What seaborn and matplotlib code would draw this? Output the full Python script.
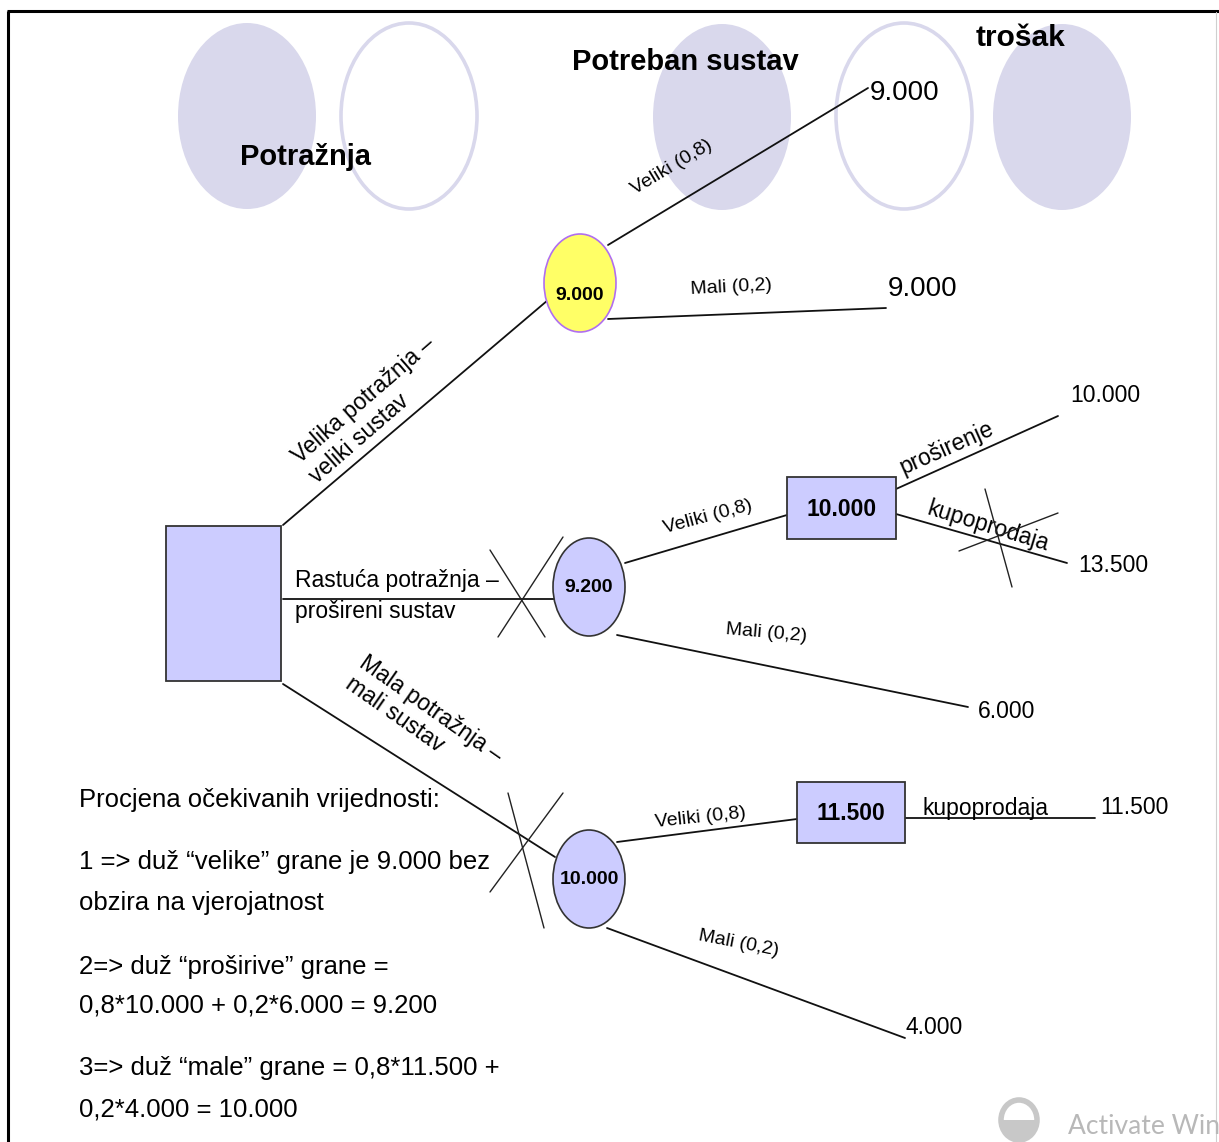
import numpy as np
import pandas as pd
import matplotlib
matplotlib.use("Agg")
import matplotlib.pyplot as plt
import seaborn as sns
from matplotlib.patches import Ellipse, Rectangle, Wedge

# ---------------- data ----------------
header_labels = ["Potražnja", "Potreban sustav", "trošak"]
decision_labels = ["Velika potražnja –\nveliki sustav",
                   "Rastuća potražnja –\nprošireni sustav",
                   "Mala potražnja –\nmali sustav"]
chance_values = ["9.000", "9.200", "10.000"]
sub_decision_values = ["10.000", "11.500"]
prob_labels = ["Veliki (0,8)", "Mali (0,2)", "Veliki (0,8)", "Mali (0,2)", "Veliki (0,8)", "Mali (0,2)"]
action_labels = ["proširenje", "kupoprodaja", "kupoprodaja"]
outcome_values = ["9.000", "9.000", "10.000", "13.500", "6.000", "11.500", "4.000"]
summary_lines = ["Procjena očekivanih vrijednosti:",
                 "1 => duž “velike” grane je 9.000 bez",
                 "obzira na vjerojatnost",
                 "2=> duž “proširive” grane =",
                 "0,8*10.000 + 0,2*6.000 = 9.200",
                 "3=> duž “male” grane = 0,8*11.500 +",
                 "0,2*4.000 = 10.000"]

# ---------------- layout (pixel space) ----------------
branch_segments = [((283, 525), (548, 300)), ((608, 245), (868, 88)), ((608, 319), (886, 308)),
                   ((283, 599), (556, 599)), ((625, 563), (787, 515)), ((896, 489), (1058, 416)),
                   ((896, 514), (1067, 563)), ((617, 635), (968, 707)), ((283, 684), (555, 857)),
                   ((617, 842), (797, 819)), ((905, 818), (1095, 818)), ((607, 928), (905, 1038))]
cross_segments = [((490, 550), (545, 637)), ((563, 537), (498, 637)),
                  ((985, 489), (1012, 587)), ((959, 551), (1058, 513)),
                  ((508, 793), (544, 928)), ((563, 793), (490, 892))]
header_ellipses = [((247, 116), False), ((409, 116), True), ((722, 117), False),
                   ((904, 116), True), ((1062, 117), False)]
chance_pos = [(580, 283), (589, 587), (589, 879)]
chance_text_pos = [(580, 295), (589, 588), (589, 880)]
sub_rects = [(787, 477, 109, 62), (797, 782, 108, 61)]
outcome_pos = [(870, 93), (888, 289), (1070, 396), (1078, 565), (978, 712), (1100, 808), (906, 1028)]
outcome_size = [20, 20, 16.5, 16.5, 16.5, 16.5, 16.5]
prob_pos = [(672, 167, 31), (731, 287, 3), (708, 517, 15), (766, 633, -5), (700, 818, 6), (739, 943, -11)]
action_pos = [(947, 448, 24), (988, 526, -17), (986, 808, 0)]
summary_y = [800, 862, 903, 967, 1006, 1068, 1110]

W, H = 1219, 1142
sns.set_theme(style="white")
FONT = ["Liberation Sans", "DejaVu Sans"]
plt.rcParams["font.family"] = FONT
plt.rcParams["text.color"] = "black"

fig = plt.figure(figsize=(W / 100, H / 100), dpi=100)
ax = fig.add_axes([0, 0, 1, 1])

# header ellipses
lav = "#d9d8ec"
for (cx, cy), outline in header_ellipses:
    if outline:
        ax.add_patch(Ellipse((cx, cy), 136, 186, facecolor="white", edgecolor=lav, lw=2.6, zorder=0))
    else:
        ax.add_patch(Ellipse((cx, cy), 138, 186, facecolor=lav, edgecolor="none", zorder=0))

# branches via seaborn
rows = []
for i, (p, q) in enumerate(branch_segments):
    rows += [dict(seg=i, x=p[0], y=p[1]), dict(seg=i, x=q[0], y=q[1])]
df = pd.DataFrame(rows)
sns.lineplot(data=df, x="x", y="y", units="seg", estimator=None, sort=False,
             color="#111111", lw=1.3, ax=ax, legend=False, zorder=1)
rows = []
for i, (p, q) in enumerate(cross_segments):
    rows += [dict(seg=i, x=p[0], y=p[1]), dict(seg=i, x=q[0], y=q[1])]
dfc = pd.DataFrame(rows)
sns.lineplot(data=dfc, x="x", y="y", units="seg", estimator=None, sort=False,
             color="#222222", lw=1.0, ax=ax, legend=False, zorder=4)

# decision square
ax.add_patch(Rectangle((166, 526), 115, 155, facecolor="#ccccff", edgecolor="#333333", lw=1.3, zorder=3))
# chance nodes
for i, ((cx, cy), val) in enumerate(zip(chance_pos, chance_values)):
    fc, ec = ("#ffff66", "#b06ef0") if i == 0 else ("#ccccff", "#333333")
    ax.add_patch(Ellipse((cx, cy), 72, 98, facecolor=fc, edgecolor=ec, lw=1.2, zorder=3))
    tx, ty = chance_text_pos[i]
    ax.text(tx, ty, val, ha="center", va="center", fontsize=14, fontweight="bold", zorder=5)
# sub decision squares
for (x, y, w, h), val in zip(sub_rects, sub_decision_values):
    ax.add_patch(Rectangle((x, y), w, h, facecolor="#ccccff", edgecolor="#333333", lw=1.3, zorder=3))
    ax.text(x + w / 2, y + h / 2 + 1, val, ha="center", va="center", fontsize=16.5, fontweight="bold", zorder=5)

# headers
ax.text(305, 157, header_labels[0], ha="center", va="center", fontsize=21, fontweight="bold")
ax.text(685, 62, header_labels[1], ha="center", va="center", fontsize=21, fontweight="bold")
ax.text(1021, 38, header_labels[2], ha="center", va="center", fontsize=21.5, fontweight="bold")

# decision labels
ax.text(372, 410, decision_labels[0], ha="center", va="center", rotation=41, rotation_mode="anchor",
        fontsize=16.5, multialignment="left", linespacing=1.15)
ax.text(295, 596, decision_labels[1], ha="left", va="center", fontsize=16.5, multialignment="left",
        linespacing=1.4)
ax.text(424, 720, decision_labels[2], ha="center", va="center", rotation=-35, rotation_mode="anchor",
        fontsize=16.5, multialignment="left", linespacing=1.15)

# probability labels
for (x, y, r), lab in zip(prob_pos, prob_labels):
    ax.text(x, y, lab, ha="center", va="center", rotation=r, rotation_mode="anchor", fontsize=14)
for (x, y, r), lab in zip(action_pos, action_labels):
    ax.text(x, y, lab, ha="center", va="center", rotation=r, rotation_mode="anchor", fontsize=16.5, zorder=2)
for (x, y), lab, fs in zip(outcome_pos, outcome_values, outcome_size):
    ax.text(x, y, lab, ha="left", va="center", fontsize=fs)

# summary
for y, line in zip(summary_y, summary_lines):
    ax.text(79, y, line, ha="left", va="center", fontsize=18.5)

# frame
ax.plot([7, W], [11, 11], color="black", lw=2.2, solid_capstyle="butt")
ax.plot([8, 8], [11, H], color="black", lw=2.2, solid_capstyle="butt")
ax.plot([1216, 1216], [12, H], color="#cfcfcf", lw=0.8)

# watermark
ax.add_patch(Ellipse((1019, 1120), 36, 40, facecolor="none", edgecolor="#c8c8c8", lw=4, zorder=1))
ax.add_patch(Wedge((1019, 1120), 18, 0, 180, facecolor="#c8c8c8", edgecolor="none", zorder=1))
ax.text(1068, 1127, "Activate Win", ha="left", va="center", fontsize=19, color="#b8b8b8",
        family=["Lato", "DejaVu Sans"])

ax.set_xlim(0, W)
ax.set_ylim(H, 0)
ax.axis("off")
fig.savefig("out.png", dpi=100, facecolor="white")
